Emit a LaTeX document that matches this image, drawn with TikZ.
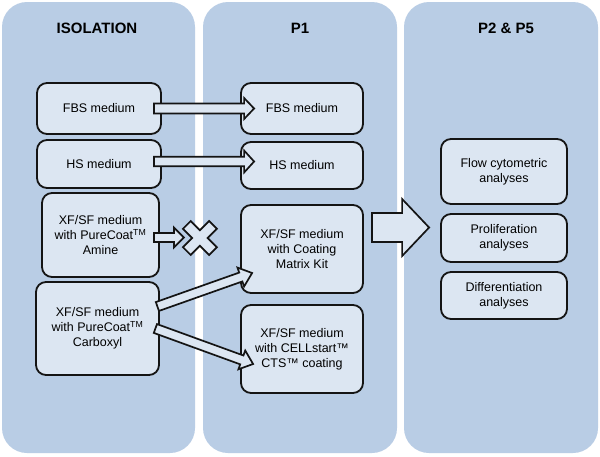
\documentclass[tikz,border=0pt]{standalone}
\usepackage{fontspec}
\setmainfont{Liberation Sans}
\usetikzlibrary{calc}
\definecolor{panelc}{HTML}{B9CDE5}
\definecolor{boxc}{HTML}{DCE6F2}
\definecolor{linec}{HTML}{141414}
% #1 start coordinate, #2 tip coordinate, #3 half shaft width, #4 half head width, #5 head length
\newcommand\myblockarrow[5]{%
  \coordinate (bah) at ($(#2)!#5!(#1)$);
  \filldraw[blockarr] ($(#1)!#3!-90:(#2)$) -- ($(bah)!#3!-90:(#2)$) -- ($(bah)!#4!-90:(#2)$) -- (#2)
     -- ($(bah)!#4!90:(#2)$) -- ($(bah)!#3!90:(#2)$) -- ($(#1)!#3!90:(#2)$) -- cycle;
}
\begin{document}
\begin{tikzpicture}[x=1pt,y=-1pt,
  panel/.style={fill=panelc, rounded corners=25pt},
  box/.style={draw=linec, fill=boxc, line width=1.8pt, rounded corners=10pt, align=center,
              font=\fontsize{12.5}{15}\selectfont, inner sep=0pt},
  title/.style={font=\fontsize{15}{18}\selectfont\bfseries},
  blockarr/.style={draw=linec, fill=boxc, line width=1.7pt, line join=miter}]
\useasboundingbox (0,0) rectangle (600,456);
\fill[white] (0,0) rectangle (600,456);
% panels
\fill[panel] (2,2) rectangle (195,453);
\fill[panel] (203,2) rectangle (397,453);
\fill[panel] (404,2) rectangle (598,453);
% titles
\node[title] (t0) at (97,28.5) {ISOLATION};
\node[title] (t1) at (300,28.5) {P1};
\node[title] (t2) at (506,28.5) {P2 \& P5};
% isolation boxes
\node[box, minimum width=124pt, minimum height=51pt] (fbs0) at (99,108.5) {FBS medium};
\node[box, minimum width=124pt, minimum height=48pt] (hs0) at (99,164) {HS medium};
\node[box, minimum width=117pt, minimum height=84pt] (am0) at (100.5,235)
  {XF/SF medium\\with PureCoat\textsuperscript{TM}\\Amine};
\node[box, minimum width=123pt, minimum height=93pt] (cb0) at (97.5,328.5)
  {XF/SF medium\\with PureCoat\textsuperscript{TM}\\Carboxyl};
% P1 boxes
\node[box, minimum width=122pt, minimum height=51pt] (fbs1) at (302,108.5) {FBS medium};
\node[box, minimum width=122pt, minimum height=47pt] (hs1) at (302,165.5) {HS medium};
\node[box, minimum width=122pt, minimum height=88pt] (cm1) at (302,249)
  {XF/SF medium\\with Coating\\Matrix Kit};
\node[box, minimum width=122pt, minimum height=88pt] (cs1) at (302,349)
  {XF/SF medium\\with CELLstart™\\CTS™ coating};
% P2 & P5 boxes
\node[box, minimum width=126pt, minimum height=65pt] (fc2) at (504,171.5) {Flow cytometric\\analyses};
\node[box, minimum width=126pt, minimum height=48pt] (pr2) at (504,238) {Proliferation\\analyses};
\node[box, minimum width=126pt, minimum height=47pt] (df2) at (504,295.5) {Differentiation\\analyses};
% arrow end points
\coordinate (a1s) at ($(fbs0.east)+(-8,0)$);
\coordinate (a1e) at ($(fbs1.west)+(14,0)$);
\coordinate (a2s) at ($(hs0.east)+(-8,-2.5)$);
\coordinate (a2e) at ($(hs1.west)+(14,-4)$);
\coordinate (a3s) at ($(am0.east)+(-6,2.5)$);
\coordinate (a3e) at ($(am0.east)+(24,2.5)$);
\coordinate (x0) at ($(am0.east)+(40,3)$);
\coordinate (a4s) at ($(cb0.east)+(-2.5,-22)$);
\coordinate (a4e) at ($(cm1.west)+(12,24)$);
\coordinate (a5s) at ($(cb0.east)+(-4.5,0)$);
\coordinate (a5e) at ($(cs1.west)+(13,15)$);
\coordinate (a6s) at ($(cm1.east)+(8,-21.5)$);
\coordinate (a6e) at ($(fc2.west)+(-11,56)$);
% block arrows
\myblockarrow{a1s}{a1e}{5pt}{10.5pt}{10pt}
\myblockarrow{a2s}{a2e}{4.7pt}{11pt}{10pt}
\myblockarrow{a3s}{a3e}{4.5pt}{10pt}{10pt}
\myblockarrow{a4s}{a4e}{4.7pt}{10pt}{12pt}
\myblockarrow{a5s}{a5e}{4.7pt}{10pt}{12pt}
\myblockarrow{a6s}{a6e}{14.5pt}{28.5pt}{27pt}
% cross
\filldraw[blockarr, shift={(x0)}, rotate=45]
  (5.5,18.5) -- (5.5,5.5) -- (18.5,5.5) -- (18.5,-5.5) -- (5.5,-5.5) -- (5.5,-18.5)
  -- (-5.5,-18.5) -- (-5.5,-5.5) -- (-18.5,-5.5) -- (-18.5,5.5) -- (-5.5,5.5) -- (-5.5,18.5) -- cycle;
\end{tikzpicture}
\end{document}
